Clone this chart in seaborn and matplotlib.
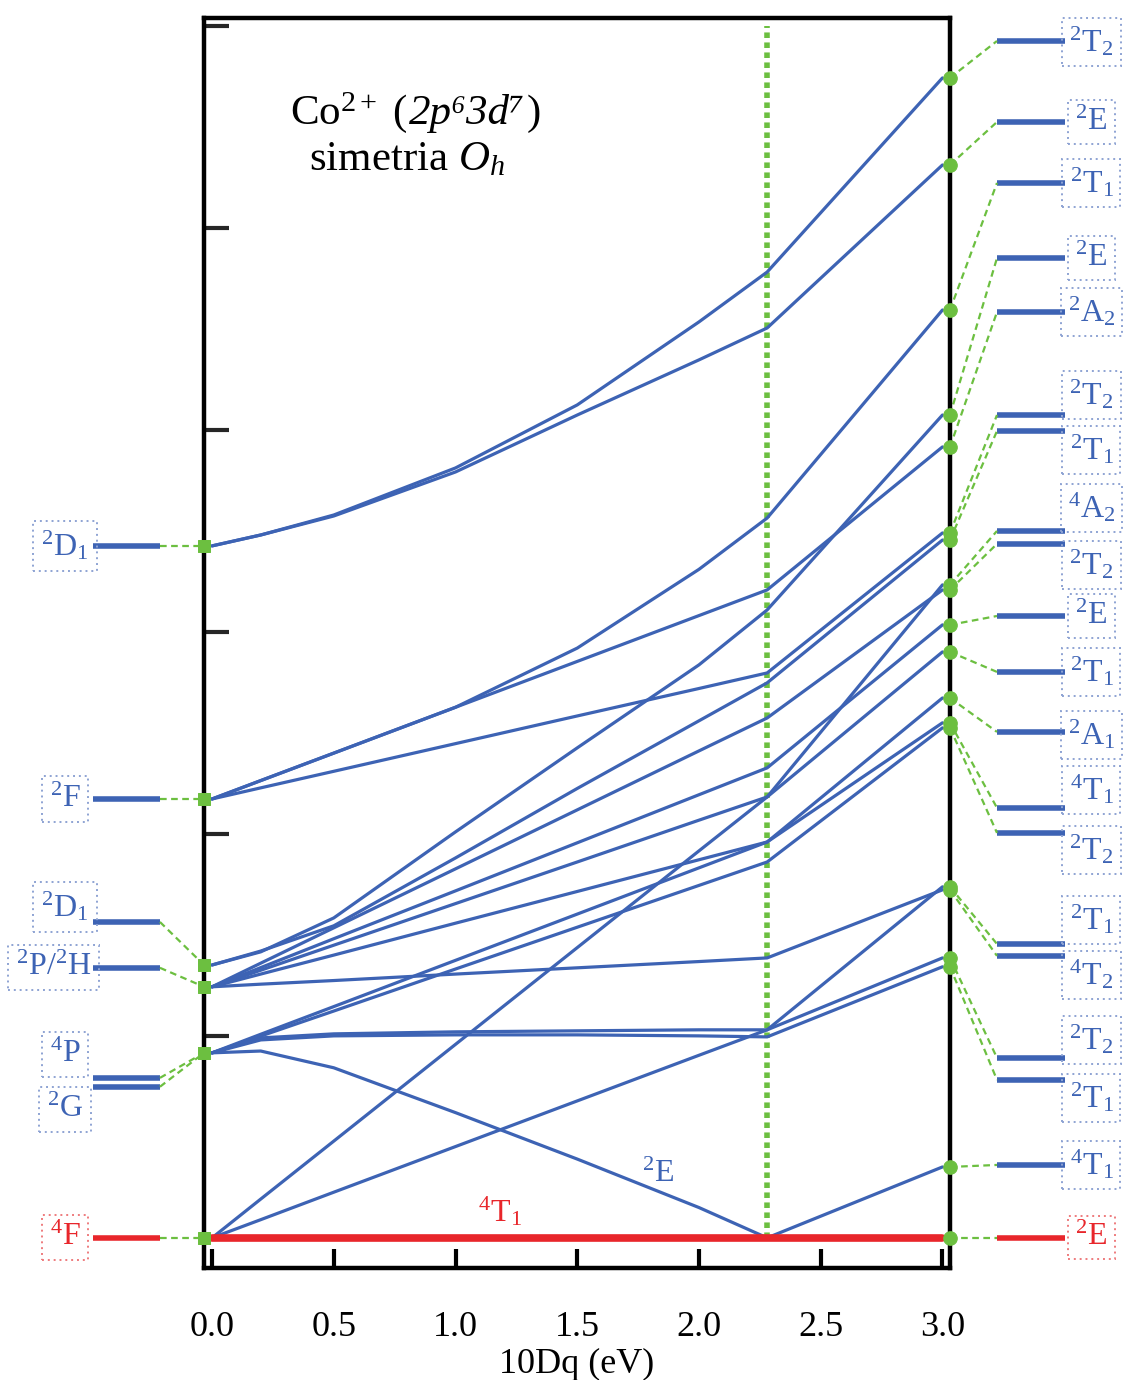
import numpy as np
import pandas as pd
import matplotlib
matplotlib.use("Agg")
import matplotlib.pyplot as plt
from matplotlib.offsetbox import TextArea, HPacker, AnnotationBbox
import seaborn as sns

sns.set_theme(style="white")
plt.rcParams["font.family"] = ["Liberation Serif", "DejaVu Serif"]
plt.rcParams["mathtext.fontset"] = "custom"
plt.rcParams["mathtext.rm"] = "Liberation Serif"
plt.rcParams["mathtext.it"] = "Liberation Serif:italic"
plt.rcParams["mathtext.bf"] = "Liberation Serif:bold"

BLUE = "#3d63b4"
RED = "#e8262b"
GREEN = "#6cbf40"
BOXBLUE = "#8ea3d3"
BOXRED = "#ee7b7d"

# ---------------- data ----------------
x_knots = [0.0, 0.2, 0.5, 1.0, 1.5, 2.0, 2.28, 3.0]
x_cross = 2.28

# energies of the 19 blue levels at each x knot
e_x00 = [0.0, 0.0, 0.916, 0.916, 0.916, 0.916, 0.916, 1.243, 1.243, 1.243, 1.243, 1.243,
         1.351, 1.351, 2.173, 2.173, 2.173, 3.426, 3.426]
e_x02 = [0.090, 0.192, 0.925, 0.990, 0.980, 0.999, 1.008, 1.256, 1.306, 1.325, 1.338, 1.360,
         1.420, 1.416, 2.228, 2.264, 2.264, 3.480, 3.480]
e_x05 = [0.226, 0.479, 0.842, 1.010, 1.000, 1.123, 1.145, 1.274, 1.400, 1.449, 1.481, 1.535,
         1.545, 1.584, 2.310, 2.400, 2.400, 3.579, 3.574]
e_x10 = [0.452, 0.958, 0.620, 1.020, 1.005, 1.331, 1.374, 1.306, 1.558, 1.655, 1.718, 1.827,
         1.881, 2.010, 2.447, 2.627, 2.627, 3.812, 3.792]
e_x15 = [0.678, 1.437, 0.390, 1.025, 1.005, 1.538, 1.603, 1.337, 1.715, 1.861, 1.956, 2.119,
         2.225, 2.426, 2.584, 2.854, 2.920, 4.124, 4.074]
e_x20 = [0.904, 1.916, 0.150, 1.030, 1.000, 1.745, 1.832, 1.368, 1.872, 2.068, 2.194, 2.411,
         2.560, 2.837, 2.720, 3.081, 3.310, 4.535, 4.347]
e_x228 = [1.030, 2.183, 0.0, 1.030, 0.995, 1.861, 1.960, 1.386, 1.960, 2.183, 2.327, 2.574,
          2.748, 3.109, 2.797, 3.208, 3.564, 4.782, 4.505]
e_x30 = [1.738, 3.233, 0.351, 1.386, 1.342, 2.525, 2.673, 1.723, 2.550, 2.901, 3.035, 3.208,
         3.455, 4.074, 3.490, 3.916, 4.594, 5.743, 5.312]

ground_e = [0.0, 0.0]          # 4T1 / 2E ground level (red)
ground_x = [0.0, 3.0]

# free-ion terms (left)
left_terms = [r"$^{2}\mathrm{D}_{1}$", r"$^{2}\mathrm{F}$", r"$^{2}\mathrm{D}_{1}$",
              r"$^{2}\mathrm{P}/^{2}\mathrm{H}$", r"$^{4}\mathrm{P}$", r"$^{2}\mathrm{G}$",
              r"$^{4}\mathrm{F}$"]
left_bar_e = [3.426, 2.173, 1.564, 1.337, 0.792, 0.748, 0.0]
left_dot_e = [3.426, 2.173, 1.351, 1.243, 0.916, 0.916, 0.0]
left_label_e = [3.426, 2.173, 1.639, 1.337, 0.906, 0.634, 0.0]
left_red = [False, False, False, False, False, False, True]

# crystal-field terms (right, top to bottom)
right_terms = [r"$^{2}\mathrm{T}_{2}$", r"$^{2}\mathrm{E}$", r"$^{2}\mathrm{T}_{1}$",
               r"$^{2}\mathrm{E}$", r"$^{2}\mathrm{A}_{2}$", r"$^{2}\mathrm{T}_{2}$",
               r"$^{2}\mathrm{T}_{1}$", r"$^{4}\mathrm{A}_{2}$", r"$^{2}\mathrm{T}_{2}$",
               r"$^{2}\mathrm{E}$", r"$^{2}\mathrm{T}_{1}$", r"$^{2}\mathrm{A}_{1}$",
               r"$^{4}\mathrm{T}_{1}$", r"$^{2}\mathrm{T}_{2}$", r"$^{2}\mathrm{T}_{1}$",
               r"$^{4}\mathrm{T}_{2}$", r"$^{2}\mathrm{T}_{2}$", r"$^{2}\mathrm{T}_{1}$",
               r"$^{4}\mathrm{T}_{1}$", r"$^{2}\mathrm{E}$"]
right_bar_e = [5.926, 5.525, 5.223, 4.851, 4.584, 4.074, 3.995, 3.500, 3.436, 3.079,
               2.802, 2.505, 2.129, 2.005, 1.455, 1.396, 0.891, 0.782, 0.361, 0.0]
right_label_e = [5.921, 5.525, 5.223, 4.851, 4.584, 4.173, 3.901, 3.614, 3.332, 3.079,
                 2.802, 2.490, 2.218, 1.921, 1.574, 1.302, 0.980, 0.693, 0.361, 0.0]

x_ticks = [0.0, 0.5, 1.0, 1.5, 2.0, 2.5, 3.0]
x_ticklabels = ["0.0", "0.5", "1.0", "1.5", "2.0", "2.5", "3.0"]
y_ticks = [1, 2, 3, 4, 5, 6]

# ---------------- build table ----------------
cols = [e_x00, e_x02, e_x05, e_x10, e_x15, e_x20, e_x228, e_x30]
rows = []
for i in range(len(e_x00)):
    for xk, col in zip(x_knots, cols):
        rows.append({"line": i, "x": xk, "e": col[i]})
df = pd.DataFrame(rows)
df_ground = pd.DataFrame({"line": [0, 0], "x": ground_x, "e": ground_e})

# ---------------- figure ----------------
fig = plt.figure(figsize=(11.24, 13.8), dpi=100)
ax = fig.add_axes([0.1815, 0.0812, 0.6637, 0.9058])
XMIN, XMAX = -0.033, 3.031
ax.set_xlim(XMIN, XMAX)
ax.set_ylim(-0.149, 6.04)

# crossover line
ax.plot([x_cross, x_cross], [0.0, 6.0], color=GREEN, lw=4, ls=(0, (1, 0.8)), zorder=1)

sns.lineplot(data=df, x="x", y="e", units="line", estimator=None, sort=False,
             color=BLUE, lw=2.3, ax=ax, zorder=2)
sns.lineplot(data=df_ground, x="x", y="e", units="line", estimator=None, sort=False,
             color=RED, lw=5.5, ax=ax, zorder=3)

# left side: bars, connectors, dots, labels
LB0, LB1 = -0.489, -0.214
for term, be, de, le, isred in zip(left_terms, left_bar_e, left_dot_e, left_label_e, left_red):
    c = RED if isred else BLUE
    ax.plot([LB0, LB1], [be, be], color=c, lw=4, solid_capstyle="butt", clip_on=False)
    ax.plot([LB1, XMIN], [be, de], color=GREEN, lw=1.6, ls=(0, (3, 2)), clip_on=False)
    lx = -0.650 if "/" in term else -0.604
    ax.text(lx, le, term, ha="center", va="center", fontsize=23, color=c,
            bbox=dict(boxstyle="square,pad=0.25", fc="none", ec=BOXRED if isred else BOXBLUE,
                      ls=(0, (1, 2)), lw=1.4))
sns.scatterplot(x=[XMIN] * len(left_dot_e), y=left_dot_e, marker="s", s=80, color=GREEN,
                edgecolor=GREEN, ax=ax, clip_on=False, zorder=5)

# right side
end_e = sorted(e_x30 + [ground_e[-1]], reverse=True)
RB0, RB1 = 3.224, 3.503
for k, (term, be, le, de) in enumerate(zip(right_terms, right_bar_e, right_label_e, end_e)):
    isred = k == len(right_terms) - 1
    c = RED if isred else BLUE
    ax.plot([RB0, RB1], [be, be], color=c, lw=4, solid_capstyle="butt", clip_on=False)
    ax.plot([XMAX, RB0], [de, be], color=GREEN, lw=1.6, ls=(0, (3, 2)), clip_on=False)
    ax.text(3.612, le, term, ha="center", va="center", fontsize=23, color=c,
            bbox=dict(boxstyle="square,pad=0.22", fc="none", ec=BOXRED if isred else BOXBLUE,
                      ls=(0, (1, 2)), lw=1.4))
sns.scatterplot(x=[XMAX] * len(end_e), y=end_e, marker="o", s=95, color=GREEN,
                edgecolor=GREEN, ax=ax, clip_on=False, zorder=5)

# title block (italic configuration)
t1 = TextArea(r"Co$^{2+}$ (", textprops=dict(fontsize=31, color="black"))
t2 = TextArea("2p\u20763d\u2077", textprops=dict(fontsize=31, color="black", style="italic"))
t3 = TextArea(")", textprops=dict(fontsize=31, color="black"))
title_box = HPacker(children=[t1, t2, t3], align="baseline", pad=0, sep=1)
ax.add_artist(AnnotationBbox(title_box, (0.834, 5.574), xycoords="data", frameon=False,
                             box_alignment=(0.5, 0.5)))
ax.text(0.80, 5.337, r"simetria $O_h$", ha="center", va="center", fontsize=31, color="black")
ax.text(1.183, 0.129, r"$^{4}\mathrm{T}_{1}$", ha="center", va="center", fontsize=23, color=RED)
ax.text(1.832, 0.312, r"$^{2}\mathrm{E}$", ha="center", va="center", fontsize=23, color=BLUE)

# axes styling
ax.set_xticks(x_ticks)
ax.set_xticklabels(x_ticklabels)
ax.set_yticks(y_ticks)
ax.tick_params(axis="x", direction="in", length=14, width=3, pad=31, labelsize=26,
               colors="black", bottom=True)
ax.tick_params(axis="y", direction="in", length=18, width=3, labelleft=False, left=True)
for sp in ax.spines.values():
    sp.set_color("black")
    sp.set_linewidth(3.2)
ax.set_xlabel("10Dq (eV)", fontsize=26, labelpad=3, color="black")
ax.set_ylabel("")
ax.grid(False)

fig.savefig("out.png", dpi=100)
